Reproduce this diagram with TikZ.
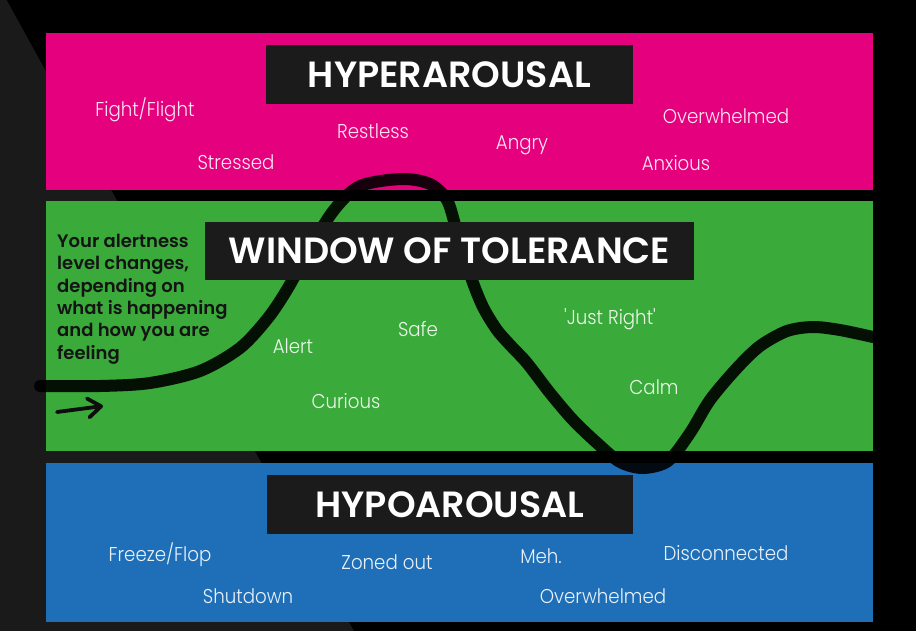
\documentclass[tikz,border=0pt]{standalone}
\usepackage{fontspec}
\setmainfont{Poppins}
\newfontfamily\lightfont{Poppins Light}[FakeStretch=0.91]
\newfontfamily\headfont{Poppins SemiBold}
\usetikzlibrary{arrows.meta}
\definecolor{hyperpink}{HTML}{E5007E}
\definecolor{windowgreen}{HTML}{3AAA3A}
\definecolor{hypoblue}{HTML}{1F6FB8}
\definecolor{titlegrey}{HTML}{1B1B1B}
\definecolor{stripegrey}{HTML}{1A1A1A}
\tikzset{
  band/.style={rectangle, inner sep=0pt, minimum width=827pt},
  titlebox/.style={rectangle, fill=titlegrey, text=white, inner sep=0pt,
    font=\headfont\fontsize{36.5}{40}\selectfont},
  feeling/.style={text=white, text opacity=0.9, inner sep=0pt, anchor=base,
    font=\lightfont\fontsize{20}{24}\selectfont},
  note/.style={text=black!92, inner sep=0pt, anchor=north west, align=left,
    font=\headfont\fontsize{18}{22.3}\selectfont},
  wave/.style={black, opacity=0.9, line width=12pt, line cap=round, line join=round},
  flowarrow/.style={black!95, line width=3.8pt, line cap=round,
    -{Straight Barb[length=13pt, width=19pt, round]}}
}

\begin{document}
\begin{tikzpicture}[x=1pt, y=-1pt]
  \useasboundingbox (0,0) rectangle (916,630);
  % background
  \fill[black] (-3,-3) rectangle (919,633);
  \fill[stripegrey] (5,-3) -- (355,633) -- (-3,633) -- (-3,-3) -- cycle;

  % the three zones
  \node (hyper)  [band, fill=hyperpink,   minimum height=157pt] at (459.5,111.5) {};
  \node (window) [band, fill=windowgreen, minimum height=250pt] at (459.5,326) {};
  \node (hypo)   [band, fill=hypoblue,    minimum height=159pt] at (459.5,542.5) {};

  % alertness line
  \draw[wave] plot[smooth, tension=0.5] coordinates {
    (40,386) (100,386) (150,383) (200,371) (240,348) (268,318) (288,288)
    (310,248) (334,210) (360,186) (402,179) (430,184) (447,200) (456,228)
    (465,255) (472,280) (483,307) (497,330) (512,347) (527,363) (550,393)
    (573,420) (597,443) (620,462) (643,468) (668,461) (690,433) (710,400)
    (737,368) (760,346) (787,331) (813,327) (840,330) (873,337)};

  % titles
  \node (hypertitle)  [titlebox, minimum width=367pt, minimum height=59pt] at (449.5,74.5) {HYPERAROUSAL};
  \node (windowtitle) [titlebox, minimum width=489pt, minimum height=58pt] at (449.5,251) {WINDOW OF TOLERANCE};
  \node (hypotitle)   [titlebox, minimum width=366pt, minimum height=59pt] at (450,504.5) {HYPOAROUSAL};

  % hyperarousal feelings
  \node (fight)     [feeling] at (145,116) {Fight/Flight};
  \node (stressed)  [feeling] at (236,169) {Stressed};
  \node (restless)  [feeling] at (373,138) {Restless};
  \node (angry)     [feeling] at (522,149) {Angry};
  \node (overhyper) [feeling] at (726,123) {Overwhelmed};
  \node (anxious)   [feeling] at (676,170) {Anxious};

  % window of tolerance
  \node (explain) [note] at (57,234) {Your alertness\\level changes,\\depending on\\what is happening\\and how you are\\feeling};
  \coordinate (arrowtail) at (57,412);
  \coordinate (arrowtip)  at (103,406);
  \draw[flowarrow] (arrowtail) -- (arrowtip);
  \node (alert)     [feeling] at (293,353) {Alert};
  \node (safe)      [feeling] at (418,336) {Safe};
  \node (curious)   [feeling] at (346,408) {Curious};
  \node (justright) [feeling] at (610,324) {'Just Right'};
  \node (calm)      [feeling] at (654,394) {Calm};

  % hypoarousal feelings
  \node (freeze)       [feeling] at (160,561) {Freeze/Flop};
  \node (shutdown)     [feeling] at (248,603) {Shutdown};
  \node (zoned)        [feeling] at (387,569) {Zoned out};
  \node (meh)          [feeling] at (541,563) {Meh.};
  \node (disconnected) [feeling] at (726,560) {Disconnected};
  \node (overhypo)     [feeling] at (603,603) {Overwhelmed};
\end{tikzpicture}
\end{document}
